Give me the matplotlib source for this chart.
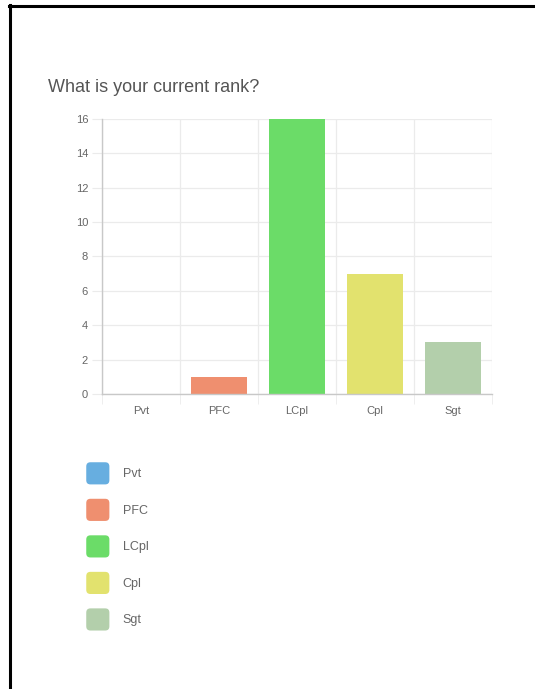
import matplotlib

matplotlib.use("Agg")

import matplotlib.pyplot as plt
from matplotlib.legend_handler import HandlerPatch
from matplotlib.lines import Line2D
from matplotlib.patches import FancyBboxPatch, Patch

plt.rcParams["font.family"] = ["Liberation Sans", "DejaVu Sans"]

# -- data ---------------------------------------------------------------------
RANKS = ["Pvt", "PFC", "LCpl", "Cpl", "Sgt"]
COUNTS = [0, 1, 16, 7, 3]
Y_TICKS = [0, 2, 4, 6, 8, 10, 12, 14, 16]

# -- style --------------------------------------------------------------------
COLORS = ["#67aee0", "#ef8f6f", "#6bdc68", "#e2e26e", "#b3cfab"]
TITLE_INK = "#555555"
TICK_INK = "#666666"
GRID = "#ebebeb"
AXIS = "#c8c8c8"

W, H = 535, 689


def rounded_box(legend, orig_handle, xdescent, ydescent, width, height, fontsize):
    return FancyBboxPatch(
        (-xdescent, -ydescent), width, height,
        boxstyle="round,pad=0,rounding_size=3",
        mutation_aspect=1,
    )


def main() -> int:
    fig = plt.figure(figsize=(W / 100, H / 100), dpi=100, facecolor="white")

    # frame lines along the top and left edge
    fig.add_artist(Line2D([10 / W, 10 / W], [0, 1 - 5 / H], color="black",
                          linewidth=2.2, transform=fig.transFigure))
    fig.add_artist(Line2D([9 / W, 1], [1 - 6 / H, 1 - 6 / H], color="black",
                          linewidth=2.2, transform=fig.transFigure))

    fig.text(48 / W, 1 - 88 / H, "What is your current rank?", fontsize=13,
             color=TITLE_INK, va="center", ha="left")

    left, right, top, bottom = 102, 492, 119, 394
    ax = fig.add_axes([left / W, 1 - bottom / H, (right - left) / W, (bottom - top) / H])

    x = range(len(RANKS))
    ax.bar(x, COUNTS, width=0.72, color=COLORS, zorder=2)

    ax.set_xlim(-0.5, len(RANKS) - 0.5)
    ax.set_ylim(0, 16)
    ax.set_yticks(Y_TICKS)
    ax.set_xticks(list(x))
    ax.set_xticklabels(RANKS)

    # vertical grid sits between categories, horizontal on every tick
    ax.set_xticks([i - 0.5 for i in range(len(RANKS) + 1)], minor=True)
    ax.grid(axis="y", which="major", color=GRID, linewidth=0.9, zorder=0)
    ax.grid(axis="x", which="minor", color=GRID, linewidth=0.9, zorder=0)
    ax.set_axisbelow(True)

    for side in ("top", "right"):
        ax.spines[side].set_visible(False)
    for side in ("left", "bottom"):
        ax.spines[side].set_color(AXIS)
        ax.spines[side].set_linewidth(1.0)

    ax.tick_params(axis="y", colors=GRID, labelcolor=TICK_INK, labelsize=8,
                   length=7, pad=3)
    ax.tick_params(axis="x", which="major", length=0, labelcolor=TICK_INK,
                   labelsize=8, pad=9)
    ax.tick_params(axis="x", which="minor", colors=GRID, length=7)

    handles = [Patch(facecolor=c, edgecolor="none") for c in COLORS]
    fig.legend(
        handles,
        RANKS,
        loc="upper left",
        bbox_to_anchor=(80 / W, 1 - 456 / H),
        frameon=False,
        fontsize=9,
        labelcolor=TICK_INK,
        handlelength=1.85,
        handleheight=2.35,
        handletextpad=1.05,
        labelspacing=1.15,
        borderpad=0,
        handler_map={Patch: HandlerPatch(patch_func=rounded_box)},
    )

    fig.savefig("out.png", dpi=100, facecolor="white")
    return 0


if __name__ == "__main__":
    raise SystemExit(main())
